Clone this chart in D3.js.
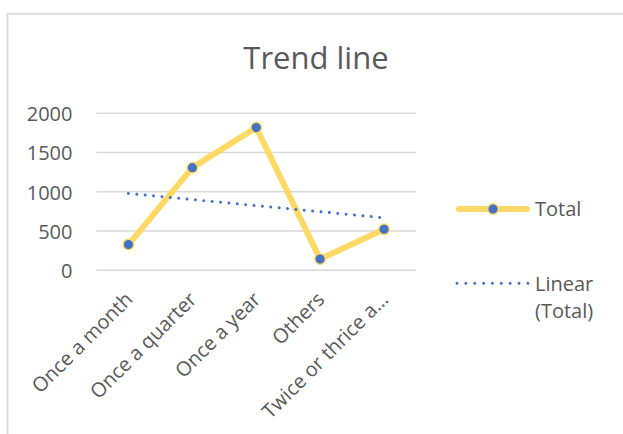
<!DOCTYPE html>
<html>
<head>
<meta charset="utf-8">
<script src="https://cdn.jsdelivr.net/npm/d3@7"></script>
<style>
  html, body { margin: 0; padding: 0; background: #fff; }
  svg { display: block; }
  text { font-family: "Open Sans", sans-serif; fill: #595959; }
</style>
</head>
<body>
<svg id="chart" width="623" height="434"></svg>
<script>
const categories = ["Once a month", "Once a quarter", "Once a year", "Others", "Twice or thrice a\u2026"];
const totals = [320, 1300, 1810, 135, 515];
const yTicks = [0, 500, 1000, 1500, 2000];
const titleText = "Trend line";
const legendLabels = ["Total", "Linear", "(Total)"];

const svg = d3.select("#chart");
const W = 623, H = 434;
const plot = { left: 96.5, right: 416, top: 112.7, bottom: 269.7 };

// chart border
svg.append("rect")
  .attr("x", 7.5).attr("y", 13.8)
  .attr("width", W + 20).attr("height", H + 20)
  .attr("fill", "none").attr("stroke", "#d9d9d9").attr("stroke-width", 1.8);

// title
svg.append("text")
  .attr("x", 316).attr("y", 69)
  .attr("text-anchor", "middle")
  .style("font-size", "31px")
  .text(titleText);

const x = d3.scalePoint().domain(categories).range([plot.left, plot.right]).padding(0.5);
const y = d3.scaleLinear().domain([0, 2000]).range([plot.bottom, plot.top]);

// y axis + gridlines
const yAxis = svg.append("g")
  .attr("transform", `translate(${plot.left},0)`)
  .call(d3.axisLeft(y).tickValues(yTicks).tickSize(-(plot.right - plot.left)).tickPadding(24).tickFormat(d3.format("d")));
yAxis.select(".domain").remove();
yAxis.selectAll(".tick line").attr("stroke", "#d9d9d9").attr("stroke-width", 1.4);
yAxis.selectAll(".tick text")
  .attr("dy", "0.4em")
  .style("font-size", "20px")
  .style("font-family", "'Open Sans', sans-serif")
  .attr("fill", "#595959");

// x axis labels
const xAxis = svg.append("g")
  .attr("transform", `translate(0,${plot.bottom})`)
  .call(d3.axisBottom(x).tickSize(0).tickPadding(0));
xAxis.select(".domain").remove();
xAxis.selectAll(".tick text")
  .attr("text-anchor", "end")
  .attr("x", 0).attr("y", 0).attr("dy", 0)
  .attr("transform", "translate(5,31) rotate(-45)")
  .style("font-size", "20px")
  .style("font-family", "'Open Sans', sans-serif")
  .attr("fill", "#595959");

// trend line (least squares on the series)
const n = totals.length;
const xs = d3.range(1, n + 1);
const mx = d3.mean(xs), my = d3.mean(totals);
const slope = d3.sum(xs, (xi, i) => (xi - mx) * (totals[i] - my)) / d3.sum(xs, xi => (xi - mx) ** 2);
const intercept = my - slope * mx;
const trend = categories.map((c, i) => ({ c, v: intercept + slope * (i + 1) }));

// data line
const line = d3.line().x(d => x(d.c)).y(d => y(d.v));
const data = categories.map((c, i) => ({ c, v: totals[i] }));

svg.append("path")
  .datum(data)
  .attr("d", line)
  .attr("fill", "none")
  .attr("stroke", "#ffd966")
  .attr("stroke-width", 6)
  .attr("stroke-linejoin", "round")
  .attr("stroke-linecap", "round");

svg.append("path")
  .datum([trend[0], trend[n - 1]])
  .attr("d", line)
  .attr("fill", "none")
  .attr("stroke", "#4472c4")
  .attr("stroke-width", 3)
  .attr("stroke-dasharray", "0.01 8.4")
  .attr("stroke-linecap", "round");

svg.selectAll("circle.pt")
  .data(data)
  .enter().append("circle")
  .attr("class", "pt")
  .attr("cx", d => x(d.c)).attr("cy", d => y(d.v))
  .attr("r", 5.3)
  .attr("fill", "#4472c4")
  .attr("stroke", "#ffd966")
  .attr("stroke-width", 1.4);

// legend
const lg = svg.append("g");
lg.append("line")
  .attr("x1", 459).attr("x2", 527).attr("y1", 209).attr("y2", 209)
  .attr("stroke", "#ffd966").attr("stroke-width", 6).attr("stroke-linecap", "round");
lg.append("circle")
  .attr("cx", 493).attr("cy", 209).attr("r", 5.3)
  .attr("fill", "#4472c4").attr("stroke", "#ffd966").attr("stroke-width", 1.4);
lg.append("text").attr("x", 535).attr("y", 215.5).style("font-size", "20px").text(legendLabels[0]);

lg.append("line")
  .attr("x1", 457).attr("x2", 528).attr("y1", 283.3).attr("y2", 283.3)
  .attr("stroke", "#4472c4").attr("stroke-width", 3)
  .attr("stroke-dasharray", "0.01 8.85").attr("stroke-linecap", "round");
lg.append("text").attr("x", 535).attr("y", 290.7).style("font-size", "20px").text(legendLabels[1]);
lg.append("text").attr("x", 535).attr("y", 318.3).style("font-size", "20px").text(legendLabels[2]);
</script>
</body>
</html>
